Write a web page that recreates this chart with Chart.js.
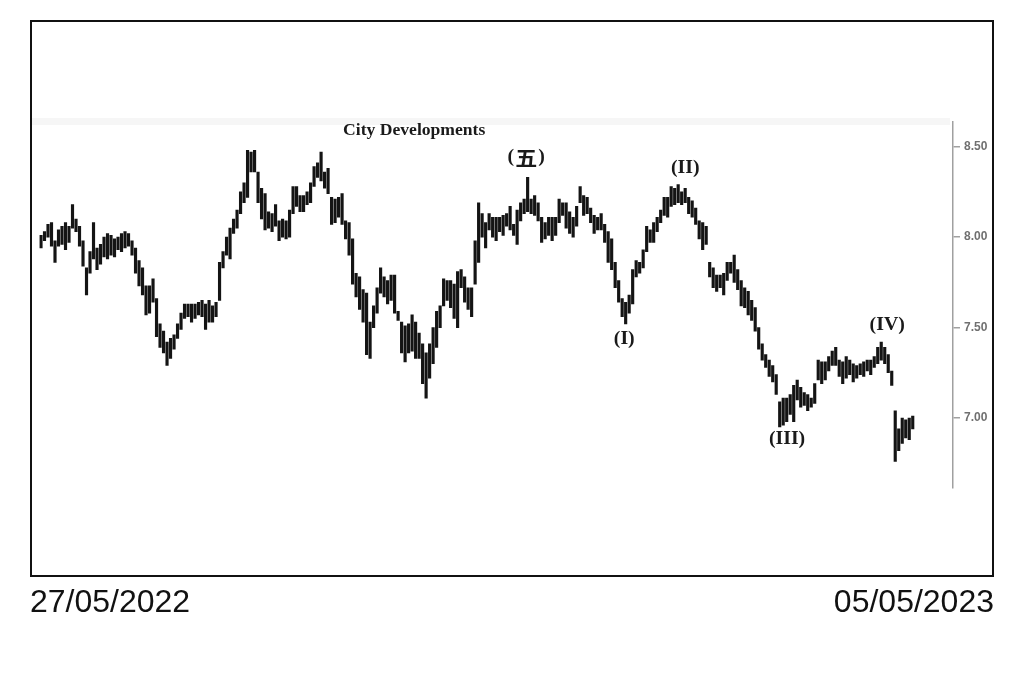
<!DOCTYPE html>
<html>
<head>
<meta charset="utf-8">
<script src="https://cdn.jsdelivr.net/npm/chart.js@4.4.1/dist/chart.umd.min.js"></script>
<style>
  html, body { margin: 0; padding: 0; background: #fff; }
  #c { display: block; }
</style>
</head>
<body>
<canvas id="c" width="1024" height="682"></canvas>
<script>
// Daily high / low prices (SGD), 27/05/2022 - 05/05/2023
const high = [
  8.01, 8.03, 8.07, 8.08, 7.98, 8.04, 8.06, 8.08, 8.06, 8.18,
  8.10, 8.06, 7.98, 7.83, 7.92, 8.08, 7.94, 7.96, 8.00, 8.02,
  8.01, 7.99, 8.00, 8.02, 8.03, 8.02, 7.98, 7.94, 7.87, 7.83,
  7.73, 7.73, 7.77, 7.66, 7.52, 7.48, 7.42, 7.44, 7.46, 7.52,
  7.58, 7.63, 7.63, 7.63, 7.63, 7.64, 7.65, 7.63, 7.65, 7.62,
  7.64, 7.86, 7.92, 8.00, 8.05, 8.10, 8.15, 8.25, 8.30, 8.48,
  8.47, 8.48, 8.36, 8.27, 8.24, 8.14, 8.13, 8.18, 8.09, 8.10,
  8.09, 8.15, 8.28, 8.28, 8.23, 8.23, 8.25, 8.30, 8.39, 8.41,
  8.47, 8.36, 8.38, 8.22, 8.21, 8.22, 8.24, 8.09, 8.08, 7.99,
  7.80, 7.78, 7.71, 7.69, 7.53, 7.62, 7.72, 7.83, 7.78, 7.76,
  7.79, 7.79, 7.59, 7.53, 7.51, 7.52, 7.57, 7.53, 7.47, 7.41,
  7.36, 7.41, 7.50, 7.59, 7.62, 7.77, 7.76, 7.76, 7.74, 7.81,
  7.82, 7.78, 7.72, 7.72, 7.98, 8.19, 8.13, 8.08, 8.13, 8.11,
  8.11, 8.11, 8.12, 8.13, 8.17, 8.07, 8.15, 8.19, 8.21, 8.33,
  8.21, 8.23, 8.19, 8.11, 8.08, 8.11, 8.11, 8.11, 8.21, 8.19,
  8.19, 8.14, 8.11, 8.17, 8.28, 8.23, 8.22, 8.16, 8.12, 8.11,
  8.13, 8.07, 8.03, 7.99, 7.86, 7.76, 7.66, 7.64, 7.68, 7.82,
  7.87, 7.86, 7.93, 8.06, 8.04, 8.08, 8.11, 8.15, 8.22, 8.22,
  8.28, 8.27, 8.29, 8.25, 8.27, 8.22, 8.20, 8.16, 8.09, 8.08,
  8.06, 7.86, 7.83, 7.79, 7.79, 7.80, 7.86, 7.86, 7.90, 7.82,
  7.76, 7.72, 7.70, 7.65, 7.61, 7.50, 7.41, 7.35, 7.32, 7.29,
  7.24, 7.09, 7.11, 7.11, 7.13, 7.18, 7.21, 7.17, 7.14, 7.13,
  7.11, 7.19, 7.32, 7.31, 7.31, 7.34, 7.37, 7.39, 7.32, 7.31,
  7.34, 7.32, 7.30, 7.29, 7.30, 7.31, 7.32, 7.32, 7.34, 7.39,
  7.42, 7.39, 7.35, 7.26, 7.04, 6.94, 7.00, 6.99, 7.00, 7.01
];
const low = [
  7.94, 7.98, 8.00, 7.95, 7.86, 7.95, 7.96, 7.93, 7.97, 8.05,
  8.03, 7.95, 7.84, 7.68, 7.80, 7.88, 7.82, 7.85, 7.89, 7.88,
  7.90, 7.89, 7.93, 7.92, 7.94, 7.95, 7.90, 7.80, 7.73, 7.68,
  7.57, 7.58, 7.64, 7.45, 7.39, 7.36, 7.29, 7.33, 7.38, 7.44,
  7.49, 7.55, 7.56, 7.53, 7.55, 7.57, 7.56, 7.49, 7.53, 7.53,
  7.56, 7.65, 7.83, 7.90, 7.88, 8.02, 8.05, 8.13, 8.19, 8.22,
  8.36, 8.36, 8.19, 8.10, 8.04, 8.05, 8.03, 8.06, 7.98, 8.00,
  7.99, 8.00, 8.13, 8.17, 8.14, 8.14, 8.18, 8.19, 8.28, 8.33,
  8.31, 8.27, 8.24, 8.07, 8.08, 8.11, 8.07, 7.99, 7.90, 7.74,
  7.67, 7.60, 7.53, 7.35, 7.33, 7.50, 7.58, 7.69, 7.67, 7.63,
  7.65, 7.58, 7.54, 7.36, 7.31, 7.36, 7.37, 7.33, 7.33, 7.19,
  7.11, 7.22, 7.30, 7.39, 7.50, 7.62, 7.65, 7.61, 7.55, 7.50,
  7.72, 7.64, 7.60, 7.56, 7.74, 7.86, 8.00, 7.94, 8.04, 8.00,
  7.98, 8.03, 8.01, 8.06, 8.04, 8.01, 7.96, 8.09, 8.13, 8.14,
  8.13, 8.12, 8.09, 7.97, 7.99, 8.01, 7.98, 8.01, 8.08, 8.12,
  8.05, 8.02, 8.00, 8.06, 8.19, 8.12, 8.13, 8.08, 8.02, 8.04,
  8.04, 7.97, 7.86, 7.82, 7.72, 7.64, 7.56, 7.52, 7.58, 7.63,
  7.78, 7.80, 7.83, 7.92, 7.97, 7.97, 8.03, 8.08, 8.12, 8.11,
  8.17, 8.18, 8.19, 8.18, 8.19, 8.13, 8.11, 8.07, 7.99, 7.93,
  7.96, 7.78, 7.72, 7.70, 7.72, 7.68, 7.76, 7.80, 7.75, 7.71,
  7.62, 7.61, 7.57, 7.54, 7.48, 7.38, 7.32, 7.28, 7.23, 7.20,
  7.13, 6.95, 6.96, 6.98, 7.02, 6.98, 7.10, 7.06, 7.07, 7.04,
  7.06, 7.08, 7.21, 7.19, 7.21, 7.26, 7.29, 7.29, 7.23, 7.19,
  7.22, 7.24, 7.20, 7.22, 7.24, 7.23, 7.26, 7.24, 7.28, 7.30,
  7.32, 7.30, 7.25, 7.18, 6.76, 6.82, 6.86, 6.89, 6.88, 6.94
];
// session number of each bar (trading days)
const sessions = high.map((_, i) => i);

const yTicks = [7.00, 7.50, 8.00, 8.50];
const dateLabels = ['27/05/2022', '05/05/2023'];
const chartTitle = 'City Developments';
const titleAt = [106.6, 8.587];           // [session, price]
const waveLabels = ['(五)', '(I)', '(II)', '(III)', '(IV)'];
const waveSession = [138.6, 166.6, 184.0, 213.1, 241.7];
const wavePrice = [8.443, 7.437, 8.382, 6.884, 7.514];

const overlay = {
  id: 'overlay',
  beforeDraw(chart) {
    const c = chart.ctx;
    c.save();
    c.fillStyle = '#fff';
    c.fillRect(0, 0, chart.width, chart.height);
    // faint band near the top of the plot picture
    c.fillStyle = 'rgba(0,0,0,0.035)';
    c.fillRect(31, 118, 919, 7);
    c.restore();
  },
  afterDraw(chart) {
    const c = chart.ctx, xs = chart.scales.x, ys = chart.scales.y;
    c.save();
    // frame
    c.strokeStyle = '#111';
    c.lineWidth = 2;
    c.strokeRect(31, 21, 962, 555);

    const cjkFont = 'bold 20px "Noto Sans CJK SC"';
    const isCJK = ch => /[\u3400-\u9fff]/.test(ch);
    // draws text char by char (CJK glyphs in their own font with a little spacing), stretched horizontally
    const stretchText = (t, x, y, font) => {
      c.save();
      c.fillStyle = '#1a1a1a';
      c.textAlign = 'left';
      c.textBaseline = 'middle';
      const chars = Array.from(t);
      const fonts = chars.map(ch => isCJK(ch) ? cjkFont : font);
      const pads = chars.map(ch => isCJK(ch) ? 1 : 0);
      const widths = chars.map((ch, k) => { c.font = fonts[k]; return c.measureText(ch).width + 2 * pads[k]; });
      const total = widths.reduce((a, b) => a + b, 0);
      c.translate(x, y);
      c.scale(1.1, 1);
      let cx = -total / 2;
      chars.forEach((ch, k) => {
        c.font = fonts[k];
        c.fillText(ch, cx + pads[k], isCJK(ch) ? 1 : 0);
        cx += widths[k];
      });
      c.restore();
    };
    stretchText(chartTitle, xs.getPixelForValue(titleAt[0]), ys.getPixelForValue(titleAt[1]),
      'bold 16px "Liberation Serif", "Times New Roman", serif');
    waveLabels.forEach((t, i) => {
      stretchText(t, xs.getPixelForValue(waveSession[i]), ys.getPixelForValue(wavePrice[i]),
        'bold 18px "Liberation Serif", "Times New Roman", serif');
    });

    // dates
    c.font = '32px "Liberation Sans", Arial, sans-serif';
    c.fillStyle = '#111';
    c.textBaseline = 'alphabetic';
    c.textAlign = 'left';
    c.fillText(dateLabels[0], 30, 612);
    c.textAlign = 'right';
    c.fillText(dateLabels[1], 994, 612);
    c.restore();
  }
};

new Chart(document.getElementById('c'), {
  type: 'bar',
  data: {
    datasets: [{
      data: sessions.map((s, i) => ({ x: s, y: [low[i], high[i]] })),
      backgroundColor: '#141414',
      borderWidth: 0,
      barThickness: 2.5,
      grouped: false
    }]
  },
  options: {
    responsive: false,
    animation: false,
    devicePixelRatio: 1,
    layout: { padding: { left: 39.25, right: 31, top: 121.7, bottom: 194 } },
    plugins: { legend: { display: false }, tooltip: { enabled: false }, title: { display: false } },
    scales: {
      x: { type: 'linear', min: -0.5, max: 260.5, offset: false, bounds: 'data', display: false },
      y: {
        position: 'right',
        min: 6.613, max: 8.638,
        afterFit(s) { s.width = 40; },
        afterBuildTicks(s) { s.ticks = yTicks.map(v => ({ value: v })); },
        border: { display: true, color: '#a0a0a0', width: 1.5 },
        grid: { drawOnChartArea: false, drawTicks: true, tickLength: 7, color: '#a0a0a0', lineWidth: 1.5 },
        ticks: {
          padding: 4,
          color: '#707070',
          font: { family: '"Liberation Sans", Arial, sans-serif', size: 12, weight: 'bold' },
          callback: v => Number(v).toFixed(2)
        }
      }
    }
  },
  plugins: [overlay]
});
</script>
</body>
</html>
